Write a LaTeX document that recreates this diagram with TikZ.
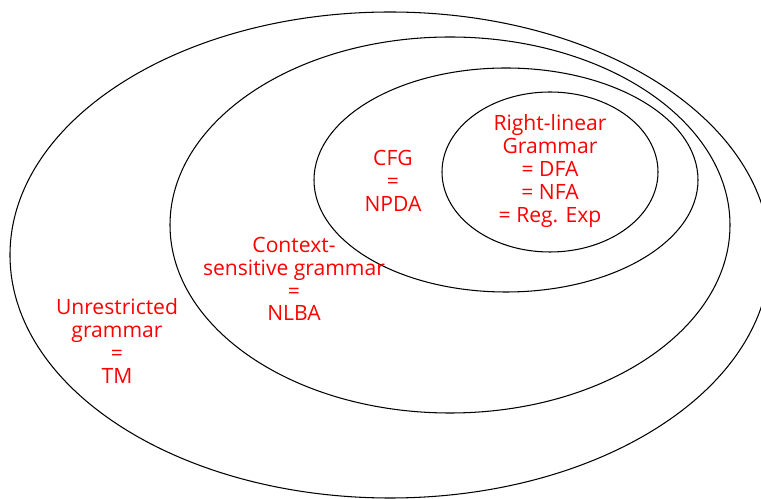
\documentclass[tikz,border=0pt]{standalone}
\usepackage{fontspec}
\setmainfont{Open Sans}
\usepackage{tikz}
\newcommand{\myoval}[4]{\draw (#1,#2) ellipse [x radius=#3, y radius=#4];}

\begin{document}
\begin{tikzpicture}[x=0.02cm,y=-0.02cm,line width=0.6pt,
    lang/.style={text=red,align=center,inner sep=0pt,font=\fontsize{12}{13}\selectfont}]
  \useasboundingbox (0,0) rectangle (761,499);
  \clip (0,0) rectangle (761,499);
  \myoval{390}{255}{380}{243}
  \myoval{450}{225}{280}{188}
  \myoval{506}{180}{192}{112}
  \myoval{550}{172}{108}{80}
  \node (tm) [lang] at (117,341) {Unrestricted\\grammar\\=\\TM};
  \node (lba) [lang] at (294,279) {Context-\\sensitive grammar\\=\\NLBA};
  \node (pda) [lang] at (393,181) {CFG\\=\\NPDA};
  \node (fa) [lang] at (550,171) {Right-linear\\Grammar\\= DFA\\= NFA\\= Reg. Exp};
\end{tikzpicture}
\end{document}
